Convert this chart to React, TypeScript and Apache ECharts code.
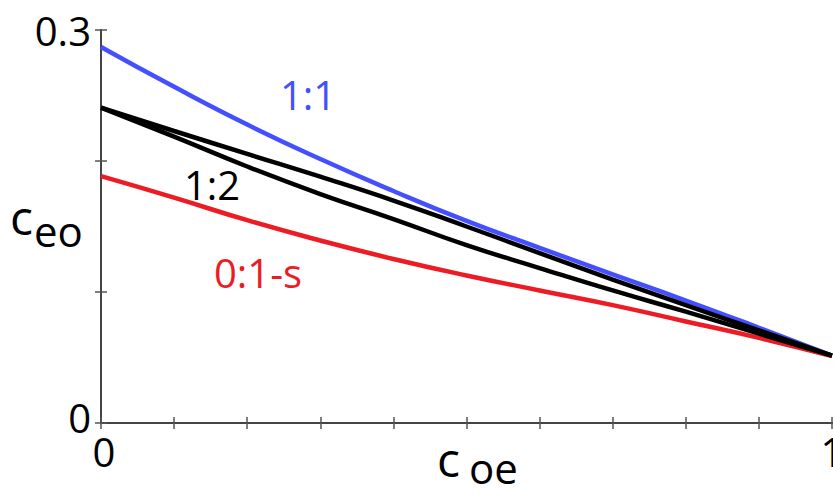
import React, { useEffect, useRef } from "react";
import * as echarts from "echarts";

// Composition c_oe along the horizontal axis
const coe = [0, 0.1, 0.2, 0.3, 0.4, 0.5, 0.6, 0.7, 0.8, 0.9, 1.0];
// c_eo for each ratio
const ceo11 = [0.287, 0.2566, 0.2278, 0.2015, 0.1771, 0.1543, 0.1337, 0.1135, 0.0935, 0.0727, 0.0514];
const ceo12Upper = [0.2407, 0.2229, 0.2054, 0.188, 0.1698, 0.15, 0.1297, 0.1095, 0.09, 0.0707, 0.0514];
const ceo12Lower = [0.2407, 0.2186, 0.1958, 0.1748, 0.1557, 0.1358, 0.1183, 0.1012, 0.085, 0.0682, 0.0514];
const ceo01s = [0.1884, 0.172, 0.1548, 0.1393, 0.1252, 0.1126, 0.1012, 0.09, 0.0775, 0.065, 0.051];

const FONT = "Open Sans";
const BLUE = "#4450ff";
const RED = "#ed1c24";
const AXIS = "#444";

const pairs = (ys: number[]) => coe.map((x, i) => [x, ys[i]]);

const near = (a: number, b: number) => Math.abs(a - b) < 1e-6;

export default function App() {
  const ref = useRef<HTMLDivElement>(null);

  useEffect(() => {
    if (!ref.current) return;
    const chart = echarts.init(ref.current, undefined, { renderer: "svg" });

    const axisLine = { show: true, lineStyle: { color: AXIS, width: 2 } };
    const axisTick = { show: true, inside: true, length: 6, lineStyle: { color: "#555", width: 1.5 } };

    const line = (name: string, ys: number[], color: string, z: number) => ({
      name,
      type: "line",
      data: pairs(ys),
      smooth: true,
      showSymbol: false,
      symbol: "none",
      z,
      lineStyle: { color, width: 4.5 },
    });

    chart.setOption({
      animation: false,
      backgroundColor: "#fff",
      grid: {
        left: 101,
        right: 1,
        top: 30,
        bottom: 72,
        containLabel: false,
        outerBoundsMode: "none",
      },
      xAxis: [
        {
          type: "value",
          min: 0,
          max: 1,
          interval: 0.1,
          position: "bottom",
          axisLine,
          axisTick,
          splitLine: { show: false },
          axisLabel: {
            show: true,
            margin: 8,
            fontFamily: FONT,
            fontSize: 40,
            color: "#000",
            showMinLabel: true,
            showMaxLabel: true,
            hideOverlap: false,
            formatter: (v: number) => (near(v, 0) ? "{l|0}" : near(v, 1) ? "1" : ""),
            rich: { l: { fontFamily: FONT, fontSize: 40, color: "#000", padding: [0, 0, 0, 6] } },
          },
        },
        {
          type: "value",
          min: 0,
          max: 1,
          interval: 0.1,
          position: "top",
          axisLine,
          axisTick,
          splitLine: { show: false },
          axisLabel: { show: false },
        },
      ],
      yAxis: [
        {
          type: "value",
          min: 0,
          max: 0.3,
          interval: 0.1,
          position: "left",
          axisLine,
          axisTick,
          splitLine: { show: false },
          axisLabel: {
            show: true,
            margin: 10,
            fontFamily: FONT,
            fontSize: 40,
            color: "#000",
            showMinLabel: true,
            showMaxLabel: true,
            formatter: (v: number) => (near(v, 0) ? "{z|0}" : near(v, 0.3) ? "0.3" : ""),
            rich: { z: { fontFamily: FONT, fontSize: 40, color: "#000", padding: [0, 0, 12, 0] } },
          },
        },
        {
          type: "value",
          min: 0,
          max: 0.3,
          interval: 0.1,
          position: "right",
          axisLine,
          axisTick,
          splitLine: { show: false },
          axisLabel: { show: false },
        },
      ],
      series: [
        line("1:1", ceo11, BLUE, 2),
        line("0:1-s", ceo01s, RED, 3),
        line("1:2 lower", ceo12Lower, "#000", 4),
        line("1:2 upper", ceo12Upper, "#000", 5),
      ],
      graphic: [
        { type: "text", x: 308, y: 94, style: { text: "1:1", fill: BLUE, font: `40px '${FONT}'`, textAlign: "center", textVerticalAlign: "middle" } },
        { type: "text", x: 212, y: 184, style: { text: "1:2", fill: "#000", font: `40px '${FONT}'`, textAlign: "center", textVerticalAlign: "middle" } },
        { type: "text", x: 258, y: 272, style: { text: "0:1-s", fill: RED, font: `40px '${FONT}'`, textAlign: "center", textVerticalAlign: "middle" } },
        // axis titles: c with subscript
        { type: "text", x: 10, y: 216, style: { text: "c", fill: "#000", font: `48px '${FONT}'`, textAlign: "left", textVerticalAlign: "middle" } },
        { type: "text", x: 34, y: 230, style: { text: "eo", fill: "#000", font: `42px '${FONT}'`, textAlign: "left", textVerticalAlign: "middle" } },
        { type: "text", x: 437, y: 458, style: { text: "c", fill: "#000", font: `48px '${FONT}'`, textAlign: "left", textVerticalAlign: "middle" } },
        { type: "text", x: 469, y: 467, style: { text: "oe", fill: "#000", font: `42px '${FONT}'`, textAlign: "left", textVerticalAlign: "middle" } },
      ],
    });

    return () => chart.dispose();
  }, []);

  return (
    <div
      ref={ref}
      style={{ position: "fixed", left: 0, top: 0, width: 833, height: 495, background: "#fff" }}
    />
  );
}
